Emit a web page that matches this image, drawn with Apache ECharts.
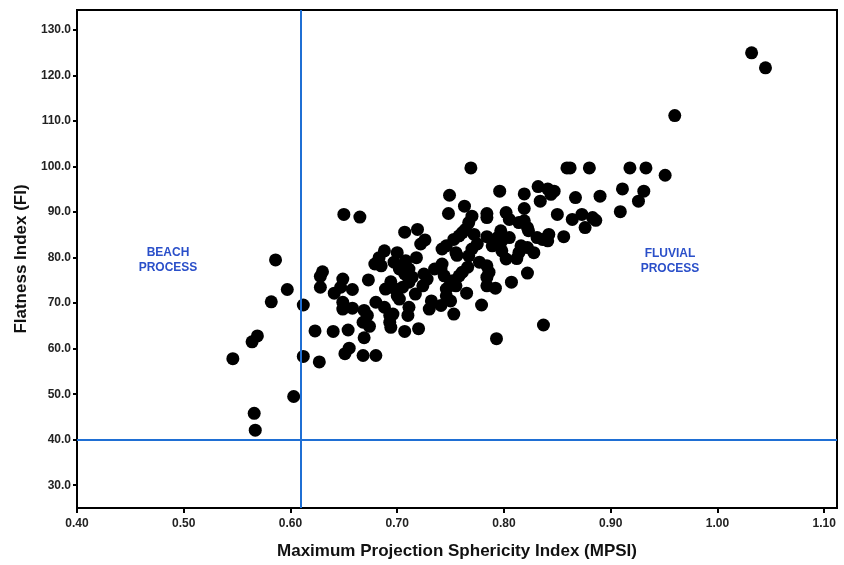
<!DOCTYPE html>
<html>
<head>
<meta charset="utf-8">
<script src="https://cdn.jsdelivr.net/npm/echarts@6/dist/echarts.min.js"></script>
<style>
  html, body { margin: 0; padding: 0; background: #fff; }
  #chart { width: 844px; height: 565px; }
</style>
</head>
<body>
<div id="chart"></div>
<script>
// Maximum Projection Sphericity Index per pebble
const mpsi = [
  0.546, 0.564, 0.569, 0.566, 0.567, 0.582, 0.586, 0.597, 0.603, 0.612, 0.612,
  0.650, 0.665, 0.707, 0.719, 0.722, 0.726, 0.688, 0.700, 0.683, 0.679, 0.685,
  0.718, 0.697, 0.708, 0.702, 0.711, 0.707, 0.630, 0.628, 0.628, 0.649, 0.647,
  0.641, 0.658, 0.673, 0.694, 0.689, 0.698, 0.711, 0.714, 0.725, 0.728, 0.724,
  0.700, 0.705, 0.702, 0.717, 0.735, 0.732, 0.730, 0.649, 0.649, 0.658, 0.680,
  0.688, 0.693, 0.696, 0.711, 0.710, 0.669, 0.672, 0.668, 0.674, 0.693, 0.694,
  0.707, 0.720, 0.623, 0.640, 0.654, 0.669, 0.655, 0.651, 0.668, 0.680, 0.627,
  0.769, 0.859, 0.862, 0.749, 0.796, 0.819, 0.832, 0.841, 0.847, 0.844, 0.834,
  0.867, 0.763, 0.748, 0.770, 0.767, 0.764, 0.784, 0.784, 0.802, 0.805, 0.819,
  0.850, 0.814, 0.819, 0.822, 0.823, 0.864, 0.758, 0.753, 0.761, 0.772, 0.784,
  0.797, 0.794, 0.805, 0.798, 0.789, 0.831, 0.836, 0.842, 0.841, 0.856, 0.746,
  0.742, 0.775, 0.770, 0.767, 0.756, 0.755, 0.816, 0.822, 0.828, 0.814, 0.812,
  0.798, 0.802, 0.777, 0.784, 0.786, 0.784, 0.766, 0.761, 0.758, 0.742, 0.741,
  0.744, 0.822, 0.752, 0.749, 0.746, 0.755, 0.784, 0.792, 0.807, 0.765, 0.746,
  0.750, 0.741, 0.779, 0.753, 0.837, 0.793,
  0.880, 0.918, 0.933, 0.951, 0.911, 0.931, 0.926, 0.890, 0.909, 0.873, 0.883,
  0.886, 0.876, 0.960, 1.032, 1.045
];
// Flatness Index, same order
const fi = [
  57.8, 61.5, 62.8, 45.8, 42.1, 70.3, 79.5, 73.0, 49.5, 69.6, 58.3,
  89.5, 88.9, 85.6, 86.2, 83.0, 83.9, 81.5, 81.1, 80.0, 78.6, 78.2,
  80.0, 79.0, 79.3, 77.5, 77.5, 76.4, 76.9, 75.9, 73.5, 75.3, 73.5,
  72.2, 73.0, 75.1, 74.7, 73.1, 73.1, 74.6, 75.7, 76.4, 75.3, 73.8,
  71.6, 73.5, 70.9, 72.0, 77.5, 70.5, 68.7, 70.2, 68.7, 68.9, 70.2,
  69.1, 67.3, 67.6, 69.1, 67.3, 68.4, 67.3, 65.8, 64.9, 65.8, 64.7,
  63.8, 64.4, 63.9, 63.8, 64.1, 62.4, 60.1, 58.9, 58.5, 58.5, 57.1,
  99.7, 99.7, 99.7, 93.7, 94.6, 94.0, 95.6, 95.1, 94.6, 93.9, 92.4,
  93.2, 91.3, 89.7, 89.1, 87.7, 86.2, 89.7, 88.8, 89.9, 88.4, 90.8,
  89.5, 87.7, 88.1, 86.6, 85.9, 88.4, 84.8, 84.0, 85.5, 85.1, 84.6,
  85.9, 84.4, 84.4, 83.7, 82.6, 84.4, 84.0, 85.1, 83.7, 84.6, 82.6,
  81.9, 83.0, 81.9, 80.4, 80.5, 81.1, 82.6, 82.2, 81.1, 81.1, 79.8,
  81.5, 79.7, 79.0, 78.2, 76.8, 75.7, 77.9, 76.8, 76.0, 78.6, 77.5,
  76.0, 76.6, 74.9, 73.8, 73.1, 73.8, 73.8, 73.3, 74.6, 72.2, 71.6,
  70.5, 69.5, 69.6, 67.6, 65.2, 62.2,
  99.7, 99.7, 99.7, 98.1, 95.1, 94.6, 92.4, 93.5, 90.1, 89.5, 88.8,
  88.2, 86.6, 111.2, 125.0, 121.7
];

const xTicks = [0.4, 0.5, 0.6, 0.7, 0.8, 0.9, 1.0, 1.1];
const yTicks = [30, 40, 50, 60, 70, 80, 90, 100, 110, 120, 130];

// boundary lines
const mpsiLimit = 0.614;
const fiLimit = 40;

const font = '"Liberation Sans", Arial, sans-serif';
const blue = '#1f6fd4';

let points = mpsi.map((x, i) => [x, fi[i]]);

let chart = echarts.init(document.getElementById('chart'));
chart.setOption({
  animation: false,
  grid: {
    left: 77, right: 7, top: 10, bottom: 55,
    show: true, borderColor: '#000', borderWidth: 2
  },
  xAxis: {
    type: 'value',
    min: 0.4, max: 1.112,
    name: 'Maximum Projection Sphericity Index (MPSI)',
    nameLocation: 'middle',
    nameGap: 35,
    nameTextStyle: { fontFamily: font, fontSize: 17, fontWeight: 'bold', color: '#111' },
    splitLine: { show: false },
    axisLine: { show: true, onZero: false, lineStyle: { color: '#000', width: 2 } },
    axisTick: { show: true, length: 5, customValues: xTicks, lineStyle: { color: '#000', width: 2 } },
    axisLabel: {
      customValues: xTicks, margin: 10,
      fontFamily: font, fontSize: 12, fontWeight: 'bold', color: '#222',
      formatter: v => v.toFixed(2)
    }
  },
  yAxis: {
    type: 'value',
    min: 25, max: 134.4,
    name: 'Flatness Index (FI)',
    nameLocation: 'middle',
    nameGap: 46,
    nameTextStyle: { fontFamily: font, fontSize: 17, fontWeight: 'bold', color: '#111' },
    splitLine: { show: false },
    axisLine: { show: true, onZero: false, lineStyle: { color: '#000', width: 2 } },
    axisTick: { show: true, length: 4, customValues: yTicks, lineStyle: { color: '#000', width: 2 } },
    axisLabel: {
      customValues: yTicks, margin: 6,
      fontFamily: font, fontSize: 12, fontWeight: 'bold', color: '#222',
      formatter: v => v.toFixed(1)
    }
  },
  graphic: [
    {
      type: 'text', x: 168, y: 245,
      style: {
        text: 'BEACH\nPROCESS', align: 'center', verticalAlign: 'top',
        font: 'bold 12px ' + font, fill: '#2a4fc9', lineHeight: 15
      }
    },
    {
      type: 'text', x: 670, y: 246,
      style: {
        text: 'FLUVIAL\nPROCESS', align: 'center', verticalAlign: 'top',
        font: 'bold 12px ' + font, fill: '#2a4fc9', lineHeight: 15
      }
    }
  ],
  series: [
    {
      type: 'scatter',
      data: points,
      symbolSize: 13,
      itemStyle: { color: '#000', opacity: 1 },
      markLine: {
        silent: true,
        symbol: 'none',
        label: { show: false },
        lineStyle: { color: blue, width: 2, type: 'solid' },
        data: [{ xAxis: mpsiLimit }, { yAxis: fiLimit }]
      }
    }
  ]
});
</script>
</body>
</html>
